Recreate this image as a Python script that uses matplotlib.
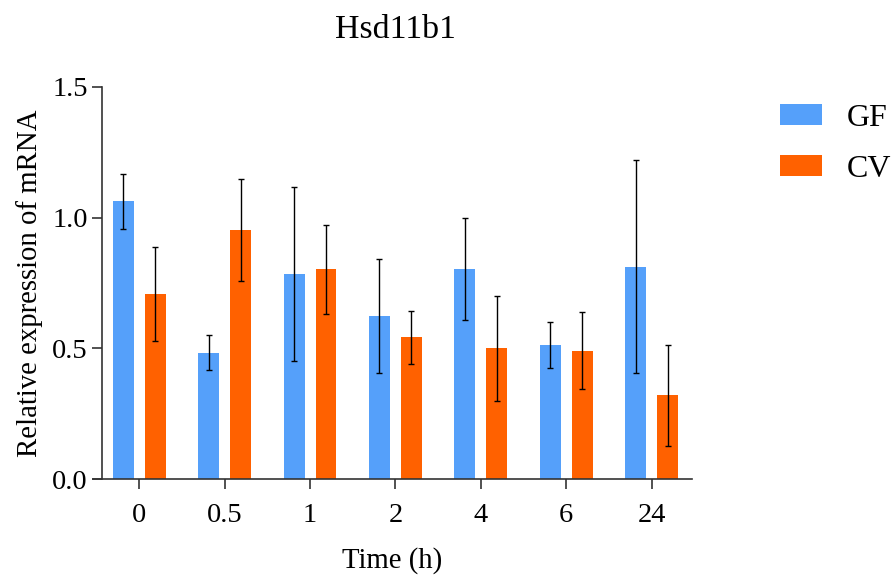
import matplotlib
matplotlib.use("Agg")
import matplotlib.pyplot as plt
import numpy as np

plt.rcParams['font.family'] = ['Liberation Serif', 'DejaVu Serif']

categories = ["0", "0.5", "1", "2", "4", "6", "24"]
gf_mean = [1.062, 0.484, 0.785, 0.624, 0.804, 0.512, 0.812]
gf_err = [0.104, 0.068, 0.332, 0.219, 0.196, 0.088, 0.407]
cv_mean = [0.707, 0.952, 0.802, 0.542, 0.501, 0.491, 0.321]
cv_err = [0.179, 0.196, 0.170, 0.100, 0.200, 0.147, 0.193]
series_names = ["GF", "CV"]
y_ticks = [0.0, 0.5, 1.0, 1.5]

blue = "#55A0FA"
orange = "#FF6100"
spine_col = "#333333"

fig = plt.figure(figsize=(8.93, 5.8), dpi=100)
ax = fig.add_axes([92.7 / 893, 100.7 / 580, 599 / 893, 392.6 / 580])

x = np.arange(len(categories))
w = 0.245
off = 0.187
ax.bar(x - off, gf_mean, w, color=blue, label=series_names[0], zorder=2)
ax.bar(x + off, cv_mean, w, color=orange, label=series_names[1], zorder=2)
ax.errorbar(x - off, gf_mean, yerr=gf_err, fmt='none', ecolor='black',
            elinewidth=1.0, capsize=2.5, capthick=1.0, zorder=3)
ax.errorbar(x + off, cv_mean, yerr=cv_err, fmt='none', ecolor='black',
            elinewidth=1.0, capsize=2.5, capthick=1.0, zorder=3)

ax.set_xlim(-0.546, 6.47)
ax.set_ylim(0, 1.5)
ax.spines['top'].set_visible(False)
ax.spines['right'].set_visible(False)
ax.spines['left'].set_position(('data', -0.44))
for s in ['left', 'bottom']:
    ax.spines[s].set_color(spine_col)
    ax.spines[s].set_linewidth(1.2)

ax.set_xticks(x)
ax.set_xticklabels(categories)
ax.set_yticks(y_ticks)
ax.set_yticklabels([f"{v:.1f}" for v in y_ticks])
ax.tick_params(axis='both', colors=spine_col, labelcolor='black', width=1.2,
               length=7, labelsize=20.5)
ax.tick_params(axis='x', pad=10)
ax.tick_params(axis='y', pad=3)

ax.set_xlabel("Time (h)", fontsize=20.7, labelpad=14)
ax.set_ylabel("Relative expression of mRNA", fontsize=20.7, labelpad=7)
fig.text(395 / 893, 1 - 30 / 580, "Hsd11b1", fontsize=24.4, ha='center', va='center')

leg = ax.legend(loc='upper left', bbox_to_anchor=(780 / 893, 1 - 104 / 580),
                bbox_transform=fig.transFigure, frameon=False, fontsize=23,
                handlelength=1.32, handleheight=0.63, labelspacing=0.68,
                handletextpad=0.78, borderaxespad=0, borderpad=0)

fig.savefig("out.png", dpi=100)
